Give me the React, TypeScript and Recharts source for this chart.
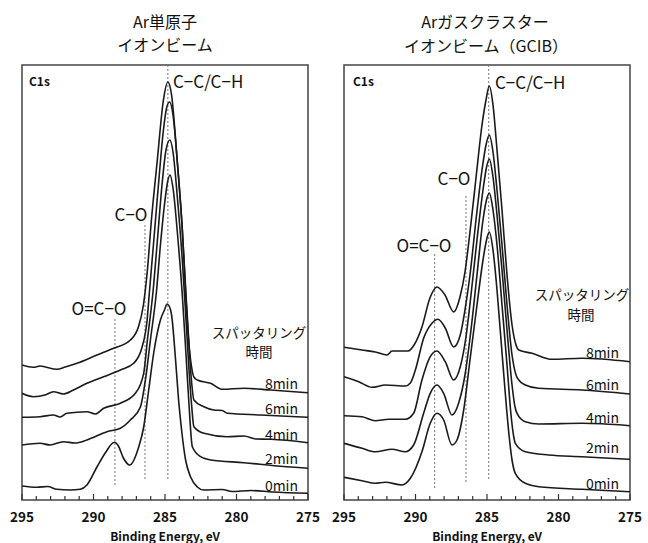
import React from "react";
import {
  LineChart,
  Line,
  XAxis,
  YAxis,
  ReferenceLine,
  ReferenceArea,
} from "recharts";

type Pt = [number, number];

const FONT = '"Noto Sans CJK JP", "Noto Sans", sans-serif';
const Y_MAX = 435;

// [binding energy (eV), stacked intensity (a.u.)]
// Ar単原子イオンビーム
const mono0: Pt[] = [
  [295, 14], [293.97, 12.7], [293.2, 13.5], [292.56, 10.7], [291.63, 10], [290.93, 10.7],
  [290.46, 15], [289.76, 33], [289.18, 47], [288.54, 57.7], [288.26, 54], [287.91, 42],
  [287.47, 35], [286.84, 53], [286.49, 73], [286.14, 110], [285.79, 147], [285.32, 180],
  [285.04, 190], [284.85, 196], [284.61, 190], [284.54, 185], [284.26, 140], [284.05, 100],
  [283.84, 70], [283.56, 40], [283.21, 23], [282.74, 13], [282.3, 10], [281.0, 10.5],
  [280.3, 8.5], [279.0, 9.5], [277.5, 8], [275, 6.7],
];
const mono2: Pt[] = [
  [295, 55], [293.74, 56.7], [293.04, 55], [292.1, 58.3], [291.28, 57], [290.46, 60],
  [289.06, 68.3], [288.12, 71.7], [287.42, 80], [286.72, 93], [286.37, 120], [286.02, 160],
  [285.6, 208], [285.32, 255], [285.04, 295], [284.82, 318], [284.65, 325], [284.44, 312],
  [284.12, 265], [283.79, 205], [283.53, 145], [283.32, 95], [283.09, 53.3], [282.51, 43.3],
  [281.81, 40], [279.47, 37.3], [277.13, 34], [275, 31.7],
];
const mono4: Pt[] = [
  [295, 82.7], [293.74, 83.3], [292.8, 85], [292.33, 83], [291.86, 86.7], [290.46, 88.3],
  [289.88, 86], [289.29, 91.7], [288.12, 96.7], [287.07, 106.7], [286.49, 126.7], [286.23, 160],
  [285.84, 208], [285.53, 260], [285.21, 315], [284.93, 350], [284.66, 360], [284.44, 348],
  [284.12, 300], [283.79, 240], [283.53, 180], [283.32, 130], [283.14, 95], [282.98, 73.3],
  [282.28, 66.7], [280.64, 63.3], [279.47, 64], [278.65, 61], [277.6, 60.7], [275, 57.3],
];
const mono6: Pt[] = [
  [295, 106.7], [294.21, 103.3], [293.39, 105], [292.8, 108.3], [292.12, 106], [291.4, 110],
  [290.46, 116.7], [289.29, 123.3], [288.12, 130], [287.19, 136.7], [286.6, 153], [286.25, 180],
  [286.09, 208], [285.81, 255], [285.46, 315], [285.11, 370], [284.89, 392], [284.68, 398],
  [284.44, 385], [284.12, 335], [283.79, 270], [283.53, 205], [283.32, 155], [283.14, 118],
  [282.98, 100], [282.28, 93.3], [281.58, 90], [281.0, 89.5], [280.64, 86.7], [278.3, 85],
  [275, 82.7],
];
const mono8: Pt[] = [
  [295, 135], [294.21, 132.7], [293.74, 134], [292.56, 130.7], [291.98, 133], [291.16, 136.7],
  [289.76, 145], [288.59, 151.7], [287.42, 160], [286.86, 173], [286.51, 195], [286.23, 230],
  [285.95, 280], [285.55, 338], [285.11, 400], [284.8, 418], [284.54, 405], [284.14, 338],
  [283.79, 271], [283.56, 208], [283.35, 160], [283.14, 133], [282.98, 123], [282.74, 120],
  [281.81, 116.7], [280.99, 110.7], [279.47, 111.7], [277.6, 110], [275, 107.3],
];

// Arガスクラスターイオンビーム(GCIB)
const gcib0: Pt[] = [
  [295, 22.7], [293.74, 19.3], [292.81, 16.7], [292.11, 17.7], [290.94, 15], [290.36, 21.7],
  [289.55, 48.3], [288.97, 76.7], [288.5, 86.7], [288.03, 80], [287.45, 55], [287.1, 60],
  [286.63, 90], [286.19, 140], [285.7, 195], [285.28, 240], [285.0, 262], [284.84, 268],
  [284.58, 250], [284.3, 210], [284.02, 160], [283.74, 110], [283.46, 65], [283.25, 40],
  [283.02, 26.7], [282.32, 16.7], [281.38, 13.3], [278.36, 10.7], [275, 8.3],
];
const gcib2: Pt[] = [
  [295, 56.7], [293.74, 51.7], [292.81, 48.3], [291.64, 50.7], [290.71, 48.3], [290.13, 55],
  [289.43, 86.7], [288.97, 106.7], [288.5, 115], [288.03, 106.7], [287.45, 85], [286.98, 97],
  [286.54, 125], [286.12, 170], [285.7, 225], [285.28, 280], [285.0, 302], [284.84, 307],
  [284.58, 290], [284.3, 255], [283.95, 195], [283.6, 135], [283.32, 85], [283.15, 65],
  [283.02, 56.7], [282.32, 48.3], [280.69, 45], [278.36, 43.3], [275, 40.7],
];
const gcib4: Pt[] = [
  [295, 84.3], [293.74, 83.3], [292.81, 79.3], [291.87, 80.7], [290.71, 80.7], [290.13, 86.7],
  [289.55, 120], [288.97, 143.3], [288.5, 149], [287.92, 138.3], [287.33, 120], [286.87, 133.3],
  [286.47, 163], [286.12, 205], [285.7, 260], [285.28, 310], [285.03, 333], [284.84, 341],
  [284.58, 323], [284.3, 285], [283.95, 230], [283.6, 170], [283.25, 115], [283.04, 93],
  [282.9, 86.7], [282.32, 78.3], [281.38, 76], [278.36, 76.7], [275, 74.3],
];
const gcib6: Pt[] = [
  [295, 123.3], [293.97, 118.3], [293.04, 112.7], [292.11, 115], [290.71, 114], [290.36, 117],
  [290.01, 130], [289.43, 161.7], [288.85, 176.7], [288.43, 180.7], [287.92, 172], [287.33, 153],
  [286.87, 165], [286.54, 190], [286.19, 225], [285.77, 280], [285.35, 330], [285.07, 355],
  [284.84, 365], [284.58, 348], [284.3, 310], [283.95, 255], [283.6, 195], [283.25, 145],
  [282.97, 125], [282.78, 120], [282.32, 115], [281.38, 111.7], [278.36, 110], [275, 106],
];
const gcib8: Pt[] = [
  [295, 152.7], [293.74, 150], [292.81, 148], [291.99, 145], [291.64, 149], [290.52, 149],
  [290.1, 155], [289.55, 173], [288.99, 202], [288.5, 213], [287.94, 205], [287.33, 188],
  [286.89, 203], [286.54, 228], [286.19, 268], [285.77, 322], [285.35, 375], [285.07, 400],
  [284.84, 414], [284.58, 395], [284.3, 350], [283.95, 290], [283.6, 225], [283.25, 175],
  [282.97, 155], [282.78, 150], [281.85, 146.7], [280.45, 140.7], [278.36, 141.7], [275, 138.3],
];

// peak guide lines: [energy, from, to]
const monoGuideLines: [number, number, number][] = [
  [284.8, 21, 435],
  [286.4, 21, 277],
  [288.5, 15, 183],
];
const gcibGuideLines: [number, number, number][] = [
  [284.88, 21, 435],
  [286.47, 18, 305],
  [288.66, 12, 248],
];

const energyTicks = [
  295, 294, 293, 292, 291, 290, 289, 288, 287, 286, 285, 284, 283, 282, 281, 280, 279,
  278, 277, 276, 275,
];
const timeLabels = ["0min", "2min", "4min", "6min", "8min"];
const monoLabelY = [485, 458, 434, 408, 383];
const gcibLabelY = [483, 447, 417, 384, 352];

function EnergyTick(props: any) {
  const { x, y, payload } = props;
  const v = payload.value;
  const major = v % 5 === 0;
  return (
    <g>
      <line x1={x} x2={x} y1={y} y2={y - (major ? 6 : 4)} stroke="#333" strokeWidth={1.2} />
      {major && (
        <text
          x={x}
          y={y + 22}
          textAnchor="middle"
          fontFamily={FONT}
          fontWeight={700}
          fontSize={13.5}
          fill="#111"
        >
          {v}
        </text>
      )}
    </g>
  );
}

function Panel({ series, guides }: { series: Pt[][]; guides: [number, number, number][] }) {
  return (
    <LineChart width={330} height={543} margin={{ top: 65, right: 22, bottom: 0, left: 22 }}>
      <XAxis
        type="number"
        dataKey="e"
        domain={[275, 295]}
        reversed
        ticks={energyTicks}
        interval={0}
        tick={<EnergyTick />}
        tickLine={false}
        axisLine={false}
        tickSize={0}
        tickMargin={0}
        height={43}
        allowDataOverflow
      />
      <YAxis type="number" domain={[0, Y_MAX]} hide allowDataOverflow />
      {guides.map(([e, from, to], i) => (
        <ReferenceLine
          key={"g" + i}
          segment={[
            { x: e, y: from },
            { x: e, y: to },
          ]}
          stroke="#777"
          strokeWidth={1}
          strokeDasharray="2 2"
        />
      ))}
      {series.map((s, i) => (
        <Line
          key={i}
          data={s.map(([e, h]) => ({ e, h }))}
          dataKey="h"
          type="monotone"
          stroke="#1a1a1a"
          strokeWidth={1.6}
          dot={false}
          isAnimationActive={false}
        />
      ))}
      <ReferenceArea x1={295} x2={275} y1={0} y2={Y_MAX} fill="none" stroke="#444" strokeWidth={1.5} />
    </LineChart>
  );
}

function Txt({
  x,
  y,
  children,
  size = 14,
  bold = false,
  anchor = "middle",
}: {
  x: number;
  y: number;
  children: React.ReactNode;
  size?: number;
  bold?: boolean;
  anchor?: "start" | "middle" | "end";
}) {
  const tx = anchor === "middle" ? "-50%" : anchor === "end" ? "-100%" : "0";
  return (
    <div
      style={{
        position: "absolute",
        left: x,
        top: y,
        transform: `translate(${tx}, -50%)`,
        fontFamily: FONT,
        fontSize: size,
        fontWeight: bold ? 700 : 400,
        color: "#111",
        whiteSpace: "nowrap",
        lineHeight: 1,
      }}
    >
      {children}
    </div>
  );
}

export default function App() {
  return (
    <div style={{ position: "absolute", left: 0, top: 0, width: 648, height: 543, background: "#fff", overflow: "hidden" }}>
      <div style={{ position: "absolute", left: 0, top: 0 }}>
        <Panel series={[mono0, mono2, mono4, mono6, mono8]} guides={monoGuideLines} />
      </div>
      <div style={{ position: "absolute", left: 322, top: 0 }}>
        <Panel series={[gcib0, gcib2, gcib4, gcib6, gcib8]} guides={gcibGuideLines} />
      </div>

      <Txt x={165} y={21} size={16}>Ar単原子</Txt>
      <Txt x={165} y={44} size={16}>イオンビーム</Txt>
      <Txt x={485} y={21} size={16}>Arガスクラスター</Txt>
      <Txt x={486} y={45} size={16}>イオンビーム（GCIB）</Txt>

      <Txt x={29} y={81} size={12} bold anchor="start">C1s</Txt>
      <Txt x={353} y={81} size={12} bold anchor="start">C1s</Txt>

      <Txt x={173} y={80} size={17} anchor="start">C−C/C−H</Txt>
      <Txt x={131} y={213} size={17}>C−O</Txt>
      <Txt x={99} y={307} size={17}>O=C−O</Txt>
      <Txt x={495} y={81} size={17} anchor="start">C−C/C−H</Txt>
      <Txt x={454} y={177} size={17}>C−O</Txt>
      <Txt x={424} y={244} size={17}>O=C−O</Txt>

      <Txt x={259} y={333} size={13.5}>スパッタリング</Txt>
      <Txt x={259} y={352} size={13.5}>時間</Txt>
      <Txt x={582} y={295} size={13.5}>スパッタリング</Txt>
      <Txt x={581} y={315} size={13.5}>時間</Txt>

      {timeLabels.map((t, i) => (
        <Txt key={"m" + t} x={298} y={monoLabelY[i]} size={14} anchor="end">{t}</Txt>
      ))}
      {timeLabels.map((t, i) => (
        <Txt key={"c" + t} x={619} y={gcibLabelY[i]} size={14} anchor="end">{t}</Txt>
      ))}

      <Txt x={165} y={536} size={12} bold>Binding Energy, eV</Txt>
      <Txt x={487} y={536} size={12} bold>Binding Energy, eV</Txt>
    </div>
  );
}
